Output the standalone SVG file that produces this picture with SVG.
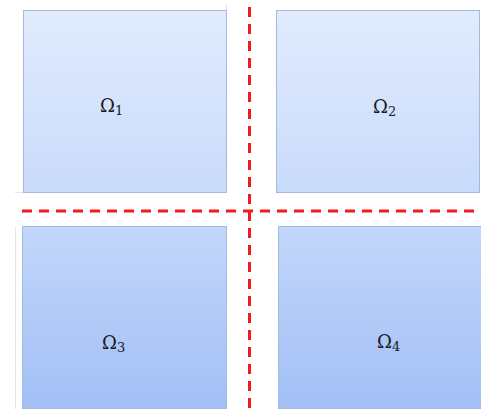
<svg xmlns="http://www.w3.org/2000/svg" width="481" height="409" viewBox="0 0 481 409">
<defs>
<linearGradient id="g" gradientUnits="userSpaceOnUse" x1="0" y1="10" x2="0" y2="409">
<stop offset="0" stop-color="#e1ebfd"/>
<stop offset="0.45" stop-color="#c9dbfb"/>
<stop offset="1" stop-color="#a2bff6"/>
</linearGradient>
<style>
.sq{fill:url(#g);stroke:#a3b9de;stroke-width:1}
.lbl{font-family:"DejaVu Serif","Liberation Serif",serif;font-size:18px;fill:#1a1a1a}
.sub{font-size:13px}
.cut{stroke:#ee1c1c;stroke-width:3;stroke-dasharray:10 7;fill:none}
.faint{stroke:#e4e4e4;stroke-width:1;fill:none}
</style>
</defs>
<rect width="481" height="409" fill="#ffffff"/>
<g id="artifacts">
<path class="faint" d="M15 192.5H23M226.5 4V10M15.5 227V409"/>
</g>
<g id="omega1">
<rect class="sq" x="23.5" y="10.5" width="203" height="182"/>
<text class="lbl" x="100" y="112">Ω<tspan class="sub" dy="3">1</tspan></text>
</g>
<g id="omega2">
<rect class="sq" x="276.5" y="10.5" width="203" height="182"/>
<text class="lbl" x="373" y="113">Ω<tspan class="sub" dy="3">2</tspan></text>
</g>
<g id="omega3">
<rect class="sq" x="22.5" y="226.5" width="204" height="182"/>
<text class="lbl" x="102" y="349">Ω<tspan class="sub" dy="3">3</tspan></text>
</g>
<g id="omega4">
<rect class="sq" x="278.5" y="226.5" width="203" height="182"/>
<text class="lbl" x="377" y="348">Ω<tspan class="sub" dy="3">4</tspan></text>
</g>
<g id="connectors">
<path class="cut" d="M249.5 7V409"/>
<path class="cut" d="M22 211H481"/>
</g>
</svg>
